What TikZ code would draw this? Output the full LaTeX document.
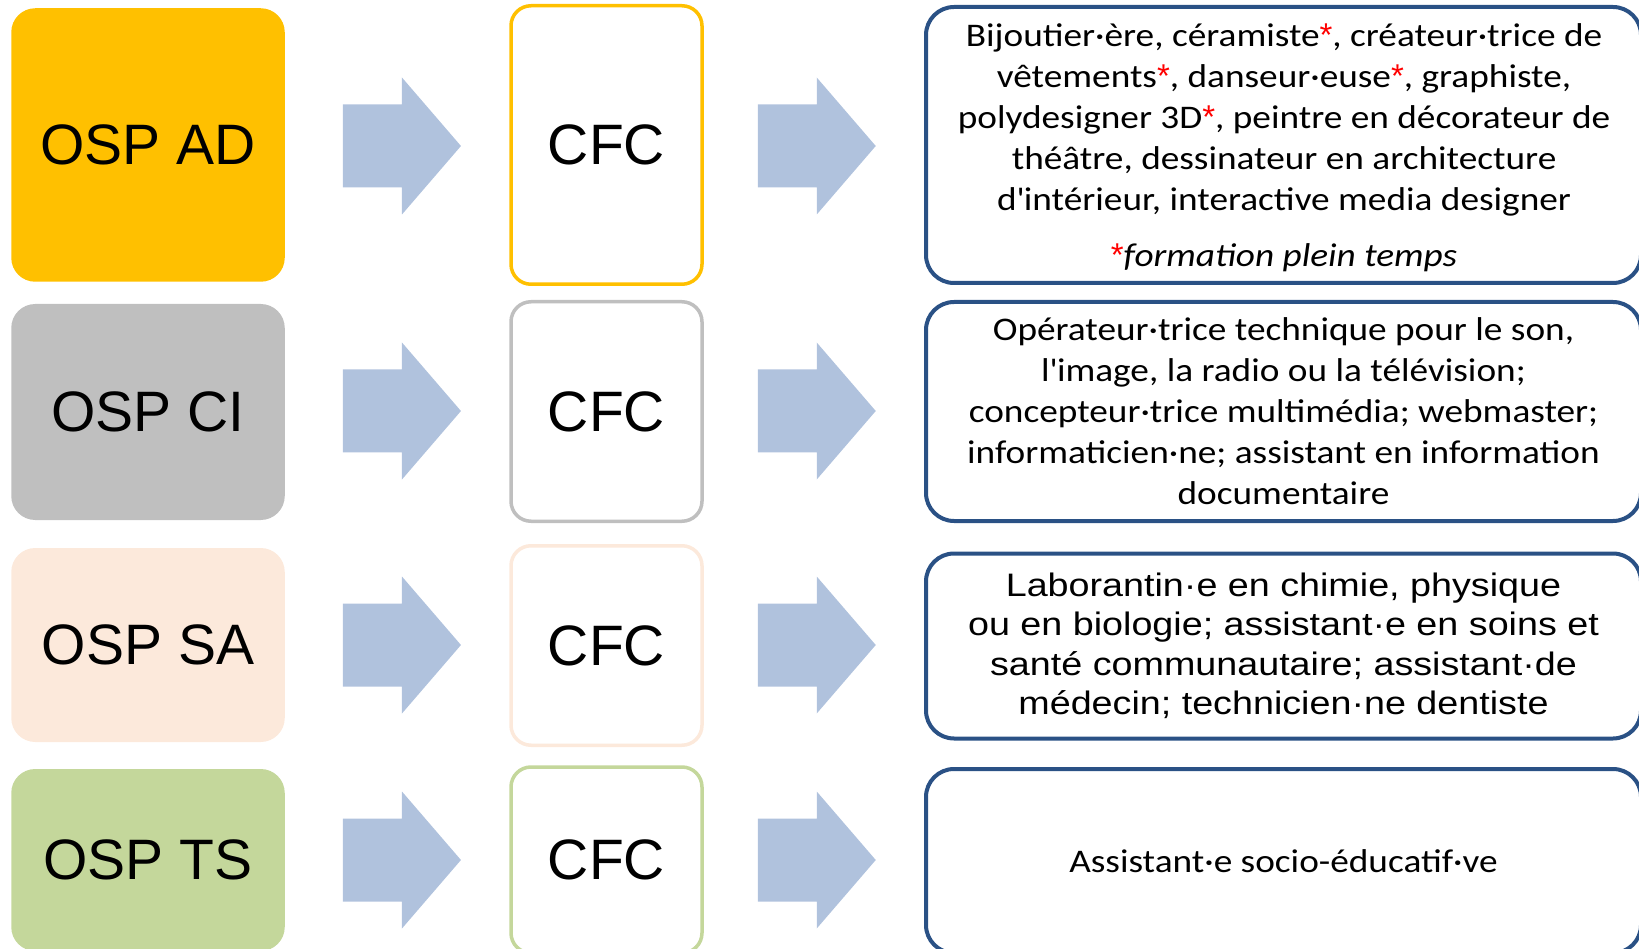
\documentclass[tikz,border=0pt]{standalone}
\usepackage{fontspec}
\setmainfont{Carlito}[FakeStretch=1.13]
\newfontfamily\arialfont{Liberation Sans}
\newfontfamily\arialwide{Liberation Sans}[FakeStretch=1.16]
\usetikzlibrary{calc}

\definecolor{ospgold}{HTML}{FFC000}
\definecolor{ospgrey}{HTML}{BFBFBF}
\definecolor{osppeach}{HTML}{FCE9DB}
\definecolor{ospgreen}{HTML}{C4D79B}
\definecolor{arrowblue}{HTML}{B0C2DD}
\definecolor{jobblue}{HTML}{2A5185}

\tikzset{
  ospbox/.style={rounded corners=24pt, minimum width=273.5pt, inner sep=0pt,
    font=\arialfont\fontsize{57}{60}\selectfont},
  cfcbox/.style={draw=#1, line width=3.5pt, fill=white, rounded corners=20pt,
    minimum width=191pt, inner sep=0pt, font=\arialfont\fontsize{57}{60}\selectfont},
  jobbox/.style={draw=jobblue, line width=4pt, rounded corners=28pt,
    minimum width=715pt, inner sep=0pt, align=center, font=\fontsize{33}{41}\selectfont},
  pics/blockarrow/.style={code={
    \fill[arrowblue] (0,-41.5) -- (59,-41.5) -- (59,-68.5) -- (118,0)
      -- (59,68.5) -- (59,41.5) -- (0,41.5) -- cycle;}}
}
\newcommand{\rs}{{\arialfont\color{red}*}}

\begin{document}
\begin{tikzpicture}[x=1pt,y=1pt,yscale=-1,xscale=1]
\useasboundingbox (0,0) rectangle (1639,949);

% row AD
\node[ospbox, fill=ospgold, minimum height=273.5pt] (ad) at (148,145) {OSP AD};
\node[cfcbox=ospgold, minimum height=278.5pt] (cfcad) at (606.5,145) {CFC};
\node[jobbox, minimum height=276pt] (jobad) at (1283.5,145) {};
\node[align=center, font=\fontsize{33}{41}\selectfont, inner sep=0pt] (adtext) at (1284,148) {%
  Bijoutier·ère, céramiste\rs, créateur·trice de\\
  vêtements\rs, danseur·euse\rs, graphiste,\\
  polydesigner 3D\rs, peintre en décorateur de\\
  théâtre, dessinateur en architecture\\
  d\textquotesingle intérieur, interactive media designer\\[15pt]
  \rs\textit{formation plein temps}};

% row CI
\node[ospbox, fill=ospgrey, minimum height=216pt] (ci) at (148,412) {OSP CI};
\node[cfcbox=ospgrey, minimum height=219.5pt] (cfcci) at (606.5,411.5) {CFC};
\node[jobbox, minimum height=219pt] (jobci) at (1283.5,411.5) {%
  Opérateur·trice technique pour le son,\\
  l\textquotesingle image, la radio ou la télévision;\\
  concepteur·trice multimédia; webmaster;\\
  informaticien·ne; assistant en information\\
  documentaire};

% row SA
\node[ospbox, fill=osppeach, minimum height=194pt] (sa) at (148,645) {OSP SA};
\node[cfcbox=osppeach, minimum height=199.5pt] (cfcsa) at (606.5,645.5) {CFC};
\node[jobbox, minimum height=185pt, font=\arialwide\fontsize{32.5}{39.5}\selectfont] (jobsa) at (1283.5,646) {%
  Laborantin·e en chimie, physique\\
  ou en biologie; assistant·e en soins et\\
  santé communautaire; assistant·de\\
  médecin; technicien·ne dentiste};

% row TS
\node[ospbox, fill=ospgreen, minimum height=182pt] (ts) at (148,860) {OSP TS};
\node[cfcbox=ospgreen, minimum height=186pt] (cfcts) at (606.5,860) {CFC};
\node[jobbox, minimum height=184pt] (jobts) at (1283.5,861) {Assistant·e socio-éducatif·ve};

% arrows
\pic at ($(ad.east)+(58,1)$) {blockarrow};
\pic at ($(cfcad.east)+(54,1)$) {blockarrow};
\pic at ($(ci.east)+(58,-1)$) {blockarrow};
\pic at ($(cfcci.east)+(54,-0.5)$) {blockarrow};
\pic at ($(sa.east)+(58,0)$) {blockarrow};
\pic at ($(cfcsa.east)+(54,-0.5)$) {blockarrow};
\pic at ($(ts.east)+(58,0)$) {blockarrow};
\pic at ($(cfcts.east)+(54,0)$) {blockarrow};

\end{tikzpicture}
\end{document}
